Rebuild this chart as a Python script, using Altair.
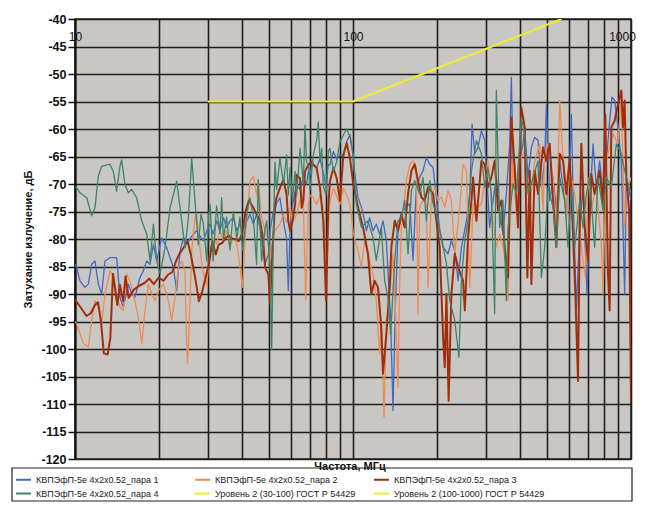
import altair as alt
import pandas as pd

S1 = "КВПЭфП-5е 4х2х0.52_пара 1"
S2 = "КВПЭфП-5е 4х2х0.52_пара 2"
S3 = "КВПЭфП-5е 4х2х0.52_пара 3"
S4 = "КВПЭфП-5е 4х2х0.52_пара 4"
L1 = "Уровень 2 (30-100) ГОСТ Р 54429"
L2 = "Уровень 2 (100-1000) ГОСТ Р 54429"

p1_f = [10.0, 10.14, 10.42, 10.86, 11.17, 11.48, 11.8, 12.13, 12.47, 12.82, 13.36, 14.12, 14.51, 14.92, 15.55, 15.99, 16.43, 17.13, 17.61, 18.11, 18.62, 19.14, 19.68, 20.51, 21.38, 21.98, 22.59, 23.22, 23.87, 24.54, 25.58, 26.65, 27.4, 28.16,
        28.9, 29.8, 30.6, 31.4, 32.3, 33.2, 34.2, 35.1, 36.1, 37.1, 38.2, 39.2, 40.1, 41.5, 42.6, 43.8, 45.0, 46.3, 47.5, 48.3, 49.6, 50.3, 51.7, 52.4, 53.1, 54.6, 56.2, 57.7, 58.5, 59.4, 60.5, 61.9, 62.7, 64.5, 66.3, 68.1, 69.1, 70.0, 71.0, 72.0, 74.0, 76.1, 78.2, 80.0, 81.5, 82.6, 85.0, 87.3, 89.8, 92.3, 94.9, 97.5, 99.5,
        101.4, 104.2, 107.2, 110.2, 111.7, 114.8, 118.0, 121.3, 124.7, 128.2, 131.8, 136.6, 139.3, 142.0, 145.2, 151.4, 155.6, 160.0, 164.4, 169.0, 173.8, 178.6, 183.6, 188.8, 194.1, 199.5, 205.1, 210.9, 219.8, 225.9, 232.3, 238.8, 245.5, 255.9, 263.0, 268.2, 274.2, 281.8, 289.7, 297.8,
        310.1, 318.9, 327.8, 337.0, 346.4, 356.1, 366.2, 371.2, 376.4, 386.9, 397.7, 408.9, 414.6, 426.2, 438.2, 450.4, 463.1, 476.0, 489.3, 496.2, 510.0, 524.3, 539.0, 554.2, 569.6, 585.6, 601.9, 610.2, 618.7, 636.0, 653.8, 672.0, 694.6, 710.1, 730.0, 750.4, 771.4, 793.0, 815.2, 838.0, 854.0, 873.4, 897.9, 923.0, 948.8, 962.0, 1000]
p1_db = [-84.5, -85.2, -87.6, -88.8, -88.2, -84.6, -84.0, -88.2, -90.0, -84.0, -83.4, -83.4, -90.6, -92.4, -88.2, -90.0, -90.6, -87.0, -85.8, -84.0, -84.6, -81.0, -84.0, -79.8, -81.6, -83.4, -85.2, -89.4, -82.2, -79.8, -80.4, -79.1, -78.5, -79.5,
         -80.3, -78.5, -77.3, -79.1, -76.7, -78.5, -76.1, -77.9, -76.7, -76.1, -78.5, -77.3, -78.5, -76.7, -75.5, -77.3, -75.5, -78.0, -82.0, -84.5, -82.8, -78.5, -75.0, -74.9, -73.5, -72.5, -76.7, -80.0, -89.4, -78.0, -74.0, -71.5, -70.1, -71.0, -68.9, -70.0, -67.7, -68.5, -66.5, -66.5, -67.1, -65.3, -68.0, -70.5, -66.5, -66.5, -64.1, -65.5, -64.7, -65.0, -62.3, -61.0, -64.0,
         -68.0, -72.4, -74.2, -76.7, -78.5, -76.1, -78.5, -77.3, -79.1, -76.7, -80.3, -94.8, -111.2, -92.4, -78.5, -74.8, -74.2, -73.6, -83.9, -70.6, -68.8, -67.6, -65.2, -66.4, -67.0, -72.4, -78.5, -81.5, -82.7, -80.3, -82.1, -87.6, -81.5, -76.7, -71.8, -59.1, -64.5, -63.3, -60.3, -62.1,
         -77.9, -73.0, -68.8, -74.8, -79.1, -71.8, -62.7, -50.6, -65.8, -73.0, -65.8, -62.7, -59.7, -68.8, -63.3, -61.5, -62.1, -70.6, -65.8, -55.5, -73.0, -68.8, -74.8, -65.8, -70.6, -75.5, -65.8, -57.3, -71.8, -93.0, -77.9, -70.6, -90.0, -74.8, -62.7, -70.6, -65.8, -71.8, -65.8, -58.5, -54.2, -54.8, -59.7, -65.8, -90.0, -68.8, -73.0]

p2_f = [10.0, 10.14, 10.71, 11.17, 11.48, 11.8, 12.13, 12.47, 12.82, 13.36, 13.73, 14.12, 14.51, 14.92, 15.34, 15.77, 16.21, 16.9, 17.37, 17.86, 18.36, 18.88, 19.41, 19.95, 20.8, 21.68, 22.28, 22.91, 23.55, 24.2, 24.88, 25.22, 25.4, 25.58, 26.29, 27.02, 27.4, 27.78, 28.5,
        28.9, 29.8, 30.6, 31.4, 32.3, 33.2, 34.2, 35.1, 36.1, 37.1, 38.2, 39.2, 40.1, 40.9, 41.5, 42.6, 43.8, 45.0, 45.6, 46.9, 48.3, 49.6, 50.3, 51.7, 52.4, 54.6, 56.2, 57.7, 59.4, 60.5, 62.7, 64.5, 66.3, 67.6, 68.1, 69.1, 70.0, 72.0, 74.0, 76.1, 78.2, 80.0, 81.5, 82.6, 85.0, 87.3, 89.8, 92.3, 94.9, 97.5, 100.3,
        104.2, 107.2, 110.2, 113.2, 118.0, 121.3, 124.7, 126.4, 129.3, 131.8, 135.5, 139.3, 142.0, 145.2, 147.0, 149.3, 155.6, 160.0, 164.4, 169.0, 171.4, 173.8, 178.6, 183.6, 186.2, 191.4, 196.8, 202.3, 208.0, 213.8, 219.8, 225.9, 232.3, 242.1, 248.9, 255.9, 263.0, 270.4, 281.8, 289.7,
        305.9, 314.5, 318.9, 327.8, 337.0, 346.4, 356.1, 361.1, 366.2, 376.4, 386.9, 397.7, 414.6, 423.9, 432.2, 450.4, 469.5, 482.7, 489.3, 503.0, 524.3, 539.0, 554.2, 569.6, 585.6, 601.9, 627.3, 644.8, 672.0, 685.0, 700.4, 720.0, 750.4, 782.1, 793.0, 815.2, 838.0, 861.4, 897.9, 923.0, 948.8, 962.0, 1000]
p2_db = [-95.0, -95.4, -99.0, -99.6, -94.8, -91.2, -92.4, -95.4, -90.0, -85.8, -87.0, -90.0, -92.4, -93.0, -86.4, -87.6, -90.0, -94.2, -99.0, -93.0, -88.2, -90.0, -91.2, -89.4, -88.2, -91.2, -94.8, -90.6, -85.2, -84.0, -85.8, -99.0, -102.6, -99.6, -82.2, -76.1, -75.5, -79.0, -84.0,
         -86.0, -88.5, -82.0, -79.7, -80.9, -78.5, -80.3, -78.5, -81.6, -79.7, -80.9, -85.0, -88.8, -80.0, -76.0, -69.5, -68.6, -72.0, -69.5, -76.1, -78.5, -80.5, -84.0, -79.0, -78.5, -77.3, -75.5, -77.0, -74.3, -77.0, -75.5, -73.0, -73.7, -91.0, -85.0, -73.7, -72.0, -72.5, -73.7, -72.0, -74.9, -90.5, -78.0, -73.1, -70.7, -72.2, -73.7, -70.7, -72.0, -73.7, -79.0,
         -82.1, -85.1, -80.3, -82.7, -86.4, -91.2, -100.9, -94.8, -112.4, -94.8, -90.0, -82.7, -92.4, -107.0, -88.8, -77.9, -69.4, -66.4, -65.8, -67.0, -93.6, -74.2, -73.0, -73.6, -88.8, -72.4, -70.6, -73.0, -72.4, -74.2, -71.2, -73.0, -82.7, -74.2, -66.4, -67.6, -88.8, -73.6, -74.2, -73.6,
         -65.8, -73.0, -76.7, -81.5, -79.1, -81.5, -85.1, -91.2, -79.1, -65.8, -75.5, -65.8, -63.9, -77.9, -74.2, -65.8, -62.7, -74.8, -64.5, -62.7, -68.8, -77.9, -54.8, -65.8, -76.7, -67.6, -71.8, -76.7, -83.9, -87.0, -68.8, -74.2, -70.6, -80.9, -90.0, -65.8, -63.3, -60.9, -62.7, -54.2, -77.9, -71.8, -68.8]

p3_f = [10.0, 10.5, 11.0, 11.4, 11.8, 12.1, 12.4, 12.7, 13.1, 13.4, 13.7, 14.2, 14.5, 14.9, 15.2, 15.6, 16.3, 17.0, 17.8, 18.5, 19.2, 20.0, 20.8, 21.6, 22.4, 23.1, 23.7, 25.0, 25.4, 26.1, 27.2, 27.9, 28.7, 29.5, 30.3,
        31.2, 32.1, 32.9, 33.9, 34.8, 35.8, 36.8, 37.8, 38.8, 39.9, 41.1, 42.2, 43.8, 45.0, 46.3, 47.5, 48.3, 49.6, 50.3, 51.0, 52.4, 53.1, 54.6, 56.2, 57.7, 58.5, 59.4, 60.5, 61.9, 62.7, 64.5, 65.4, 66.3, 67.2, 69.1, 71.0, 72.0, 74.0, 76.1, 78.2, 80.0, 81.5, 82.6, 85.0, 87.3, 89.8, 92.3, 94.9, 97.5, 100.3,
        104.2, 108.7, 113.2, 116.4, 119.6, 123.0, 126.4, 128.2, 131.8, 135.5, 137.4, 141.3, 145.2, 149.3, 153.5, 157.8, 162.2, 166.7, 171.4, 176.2, 181.1, 186.2, 194.1, 199.5, 205.1, 210.9, 213.8, 216.8, 220.8, 225.9, 232.3, 238.8, 248.9, 252.4, 259.4, 266.7, 270.4, 277.9, 285.8, 289.7, 297.8,
        305.9, 314.5, 323.3, 332.4, 341.7, 351.3, 361.1, 371.2, 381.6, 392.3, 403.3, 414.6, 423.9, 432.2, 438.2, 450.4, 463.1, 482.7, 496.2, 510.0, 524.3, 539.0, 554.2, 569.6, 585.6, 601.9, 618.7, 630.7, 644.8, 653.8, 662.8, 681.3, 700.4, 720.0, 740.1, 771.4, 793.0, 808.4, 826.5, 838.0, 849.7, 873.4, 897.9, 923.0, 935.8, 948.8, 962.0, 985.0, 1000]
p3_db = [-91.0, -92.5, -94.0, -93.5, -92.0, -91.5, -95.0, -100.8, -101.0, -98.0, -86.3, -92.0, -88.3, -91.3, -86.8, -90.7, -89.2, -88.5, -88.0, -87.2, -88.2, -87.0, -87.6, -86.5, -86.0, -84.0, -82.8, -81.0, -80.4, -82.8, -87.7, -91.3, -89.5, -87.0, -84.6,
         -80.4, -82.8, -81.0, -80.7, -79.8, -79.4, -80.0, -80.0, -80.4, -79.1, -74.9, -73.0, -74.3, -75.5, -76.7, -80.0, -85.2, -86.4, -91.8, -85.0, -73.7, -72.5, -70.7, -69.2, -71.9, -76.7, -78.5, -77.0, -73.7, -68.3, -69.0, -74.3, -73.0, -67.7, -66.5, -65.9, -66.5, -67.1, -70.7, -76.7, -91.2, -74.0, -69.5, -67.1, -68.9, -73.1, -64.7, -62.6, -65.3, -70.1,
         -74.2, -77.9, -82.7, -90.0, -87.6, -88.8, -96.1, -104.5, -97.3, -88.8, -81.5, -76.7, -78.5, -75.5, -77.9, -71.8, -67.6, -66.4, -69.4, -72.4, -73.0, -70.6, -71.8, -76.7, -81.5, -97.9, -103.3, -90.0, -109.4, -90.0, -82.7, -85.1, -87.6, -93.0, -79.7, -73.0, -68.8, -76.7, -69.4, -65.8, -66.4,
         -70.6, -68.8, -65.8, -74.8, -73.0, -81.5, -87.0, -57.9, -67.0, -77.9, -56.1, -59.7, -87.0, -67.6, -88.2, -67.6, -71.8, -63.3, -65.8, -62.7, -73.0, -81.5, -64.5, -65.8, -71.8, -65.2, -79.1, -90.0, -105.8, -77.9, -62.7, -77.9, -83.9, -68.2, -71.8, -67.6, -73.6, -57.3, -86.4, -93.0, -59.7, -58.5, -55.5, -53.0, -59.7, -54.8, -68.8, -75.0, -110.0]

p4_f = [10.0, 10.14, 10.42, 11.02, 11.48, 11.8, 12.13, 12.47, 13.36, 13.73, 14.12, 14.51, 14.72, 15.13, 15.55, 15.99, 16.67, 17.37, 18.11, 18.62, 19.14, 19.68, 20.23, 21.08, 21.98, 23.22, 23.87, 24.88, 25.58, 26.29, 27.02, 27.78, 28.4,
        28.9, 29.8, 30.2, 30.6, 31.4, 32.3, 33.2, 33.7, 34.2, 35.1, 36.1, 37.1, 38.2, 39.2, 40.1, 41.5, 42.6, 43.8, 45.0, 45.6, 46.9, 48.3, 48.9, 50.3, 51.0, 51.7, 52.4, 53.1, 54.6, 56.2, 57.7, 58.5, 59.4, 60.5, 61.9, 62.7, 64.5, 66.3, 67.2, 68.1, 69.1, 70.0, 72.0, 74.0, 75.0, 76.1, 77.2, 78.2, 80.0, 81.5, 82.6, 85.0, 87.3, 89.8, 92.3, 94.9, 97.5, 100.3,
        102.8, 107.2, 113.2, 118.0, 121.3, 126.4, 130.0, 133.6, 136.6, 141.3, 145.2, 149.3, 153.5, 157.8, 162.2, 166.7, 173.8, 178.6, 183.6, 188.8, 194.1, 199.5, 208.0, 216.8, 222.8, 232.3, 240.4, 245.5, 252.4, 259.4, 266.7, 277.9, 289.7, 297.8,
        305.9, 314.5, 323.3, 327.8, 337.0, 346.4, 356.1, 361.1, 376.4, 386.9, 403.3, 414.6, 426.2, 444.3, 463.1, 476.0, 489.3, 503.0, 524.3, 539.0, 554.2, 577.5, 593.6, 610.2, 627.3, 653.8, 672.0, 690.8, 710.1, 740.1, 760.8, 793.0, 815.2, 849.7, 885.6, 923.0, 948.8, 1000]
p4_db = [-70.5, -70.7, -71.6, -72.5, -75.8, -74.3, -68.6, -66.8, -66.4, -67.7, -71.3, -66.8, -65.6, -70.1, -71.6, -71.0, -72.5, -76.7, -79.1, -84.0, -77.3, -84.0, -86.4, -81.6, -74.3, -69.5, -74.3, -81.6, -76.1, -65.3, -73.1, -81.0, -75.5,
         -77.0, -84.0, -76.0, -73.7, -84.0, -74.0, -79.0, -72.5, -80.0, -76.0, -82.0, -75.0, -80.0, -76.0, -82.0, -75.5, -72.5, -76.0, -84.6, -69.2, -84.0, -78.0, -76.7, -85.0, -100.2, -80.0, -66.0, -71.0, -65.3, -70.0, -64.7, -72.0, -67.0, -73.0, -67.7, -72.0, -63.5, -70.0, -59.3, -66.0, -66.5, -71.0, -64.7, -62.0, -58.7, -66.0, -63.5, -70.4, -72.0, -64.1, -63.5, -67.7, -66.0, -62.3, -61.1, -60.0, -61.4, -64.7,
         -73.6, -77.9, -76.7, -79.7, -83.9, -77.9, -87.6, -90.6, -97.3, -83.9, -76.7, -76.1, -73.0, -82.7, -71.2, -69.4, -71.8, -68.8, -76.7, -69.4, -73.6, -75.5, -79.7, -84.5, -91.2, -94.8, -101.5, -87.6, -80.3, -76.7, -67.6, -62.1, -64.5, -70.6,
         -67.0, -71.8, -93.6, -53.0, -77.9, -73.0, -91.2, -77.9, -70.0, -71.8, -57.9, -60.9, -71.8, -68.8, -65.8, -87.0, -81.5, -70.6, -74.2, -81.5, -68.8, -73.0, -81.5, -70.6, -81.5, -73.0, -77.9, -71.8, -68.8, -81.5, -68.8, -74.8, -68.8, -70.6, -62.7, -64.5, -67.6, -71.8]

lv1_f = [30, 100]
lv1_db = [-55, -55]
lv2_f = [100, 562]
lv2_db = [-55, -40]

grid_x = [10, 20, 30, 40, 50, 60, 70, 80, 90, 100, 200, 300, 400, 500, 600, 700, 800, 900, 1000]
grid_y = list(range(-120, -35, 5))

# legend fills column by column: order chosen so rows read 1,2,3 / 4, level, level
names = [S1, S4, S2, L1, S3, L2]
colors = ["#4468c4", "#3d8468", "#f08a52", "#eded34", "#a02e0c", "#eded34"]

W, H = 556, 440
FONT = "Liberation Sans, Arial, sans-serif"

color_scale = alt.Scale(domain=names, range=colors)
legend = alt.Legend(orient="none", legendX=-60, legendY=452, columns=3, title=None,
                    symbolType="stroke", symbolSize=225, symbolStrokeWidth=2,
                    labelFont="Liberation Sans Narrow, Arial Narrow, Liberation Sans, sans-serif",
                    labelFontSize=9, labelColor="#222", columnPadding=4, rowPadding=0,
                    gridAlign="all", labelLimit=300, labelOffset=4)

xaxis = alt.Axis(orient="top", values=grid_x, grid=True, gridColor="#1e1e1e", gridWidth=1.6,
                 ticks=False, tickSize=0, domain=False, labelPadding=-24, labelFontSize=12,
                 labelFont=FONT, labelColor="#111", labelFlush=False, labelOverlap=False,
                 labelOffset={"condition": {"test": "datum.value == 1000", "value": -9}, "value": 0},
                 labelExpr="(datum.value == 10 || datum.value == 100 || datum.value == 1000) ? '' + datum.value : ''",
                 title=None)
yaxis = alt.Axis(values=grid_y, grid=True, gridColor="#1e1e1e", gridWidth=1.6,
                 tickSize=7, tickColor="#111", tickWidth=1.5, domainColor="#111", domainWidth=2,
                 labelFont=FONT, labelFontSize=12.5, labelFontWeight="bold", labelColor="#111",
                 labelPadding=2, labelExpr="'' + datum.value",
                 title="Затухание излучение, дБ", titleFont=FONT, titleFontSize=11,
                 titleFontWeight="bold", titleColor="#111", titleX=-47, titleY=H / 2,
                 titleAngle=270, titleBaseline="middle", titleAlign="center")

xs = alt.Scale(type="log", domain=[10, 1000], nice=False)
ys = alt.Scale(domain=[-120, -40], nice=False, zero=False)


def layer(f, db, name, width):
    df = pd.DataFrame({"f": f, "db": db, "series": name})
    return alt.Chart(df).mark_line(strokeWidth=width, clip=True, strokeJoin="round").encode(
        x=alt.X("f:Q", scale=xs, axis=xaxis),
        y=alt.Y("db:Q", scale=ys, axis=yaxis),
        color=alt.Color("series:N", scale=color_scale, legend=legend),
    )


box = alt.Chart(pd.DataFrame({"a": [0]})).mark_rect(fill="white", stroke="#222", strokeWidth=1.2).encode(
    x=alt.value(-63), x2=alt.value(557), y=alt.value(449), y2=alt.value(482))

xtitle = alt.Chart(pd.DataFrame({"t": ["Частота, МГц"]})).mark_text(
    font=FONT, fontSize=11, fontWeight="bold", color="#111", baseline="middle").encode(
    x=alt.value(W / 2 - 3), y=alt.value(H + 8), text="t:N")

chart = alt.layer(
    box,
    layer(p1_f, p1_db, S1, 1.3),
    layer(p2_f, p2_db, S2, 1.3),
    layer(p3_f, p3_db, S3, 2.0),
    layer(p4_f, p4_db, S4, 1.3),
    layer(lv1_f, lv1_db, L1, 2.0),
    layer(lv2_f, lv2_db, L2, 2.0),
    xtitle,
).properties(
    width=W, height=H, autosize=alt.AutoSizeParams(type="none"),
    padding={"left": 67, "top": 11, "right": 6, "bottom": 44},
    background="white",
).configure_view(fill="#c9c7c3", stroke="#222", strokeWidth=1.5)

chart.save("out.html", embed_options={"renderer": "svg", "actions": False})
